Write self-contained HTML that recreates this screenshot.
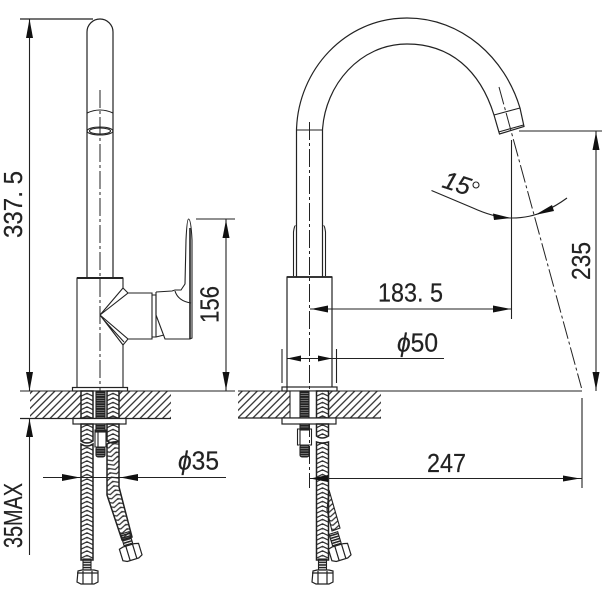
<!DOCTYPE html>
<html><head><meta charset="utf-8"><style>
html,body{margin:0;padding:0;background:#fff}
svg{display:block}
text{font-family:"Liberation Sans",sans-serif;fill:#222;stroke:#222;stroke-width:.2}
.a{fill:#111;stroke:none}
.c{stroke-dasharray:18 3 3 3;stroke-width:1}
</style></head><body>
<svg width="602" height="602" viewBox="0 0 602 602" xmlns="http://www.w3.org/2000/svg" fill="none" stroke="#222" stroke-width="1.1">
<defs>
<pattern id="h" width="5.300" height="5.300" patternUnits="userSpaceOnUse" patternTransform="rotate(45)"><line x1="2.650" y1="0" x2="2.650" y2="5.300" stroke="#222" stroke-width="1.200"/></pattern>
<pattern id="b2" x="0" y="0" width="12" height="4.500" patternUnits="userSpaceOnUse" patternTransform="translate(109 490) rotate(-17)"><path d="M-1 .7L6 -2.700L13 .7M-1 5.200L6 1.800L13 5.200M-1 9.700L6 6.300L13 9.700" stroke="#333" stroke-width="1.250" fill="none"/></pattern>
<pattern id="b3" x="0" y="0" width="12" height="4.500" patternUnits="userSpaceOnUse" patternTransform="translate(81 0)"><path d="M-1 .7L6 -2.700L13 .7M-1 5.200L6 1.800L13 5.200M-1 9.700L6 6.300L13 9.700" stroke="#333" stroke-width="1.250" fill="none"/></pattern>
<pattern id="b4" x="0" y="0" width="12" height="4.500" patternUnits="userSpaceOnUse" patternTransform="translate(107 0)"><path d="M-1 .7L6 -2.700L13 .7M-1 5.200L6 1.800L13 5.200M-1 9.700L6 6.300L13 9.700" stroke="#333" stroke-width="1.250" fill="none"/></pattern>
<pattern id="b5" x="0" y="0" width="12" height="4.500" patternUnits="userSpaceOnUse" patternTransform="translate(316.500 0)"><path d="M-1 .7L6 -2.700L13 .7M-1 5.200L6 1.800L13 5.200M-1 9.700L6 6.300L13 9.700" stroke="#333" stroke-width="1.250" fill="none"/></pattern>
<pattern id="t" width="5" height="2.400" patternUnits="userSpaceOnUse"><rect width="5" height="1.500" fill="#222"/></pattern>
<pattern id="t2" width="5" height="2.600" patternUnits="userSpaceOnUse"><rect width="5" height="1" fill="#333"/></pattern>
</defs>

<!-- LEFT VIEW -->
<path d="M87 278V32A13 13 0 0 1 113 32V278" stroke-width="1.200"/>
<path d="M87 113Q100 107 113 113"/>
<ellipse cx="100" cy="131" rx="13" ry="4"/><ellipse cx="100" cy="131" rx="10.500" ry="3"/>
<line class="c" x1="100" y1="90" x2="100" y2="391"/>
<path d="M77 387V278H123V288M123 345V387"/>
<line x1="77" y1="278" x2="123" y2="278" stroke-width="2"/>
<path d="M123 288L128 293H152V339H128L123 345"/>
<path d="M100 315L123 288M100 315L128 293M100 315L128 339M100 315L123 345M103 319L124 342"/>
<path d="M152 295H156V337L152 337M156 337L164 335"/>
<path d="M156 292L172 291L175 290H181L185 284L186 240Q187 219 188.500 219Q191 219 192 240V338L190 339H165L156 315V292"/>
<path d="M175 291Q178 301 191 303"/>
<line x1="190" y1="228" x2="190" y2="339" stroke-width="1.600"/>
<rect x="72.500" y="387.500" width="55" height="3.500" stroke-width="1.200"/>

<rect x="30" y="391" width="141" height="27" fill="url(#h)" stroke="none"/>
<rect x="81" y="391" width="38" height="27" fill="#fff" stroke="none"/>
<line x1="20" y1="391" x2="235" y2="391"/>
<line x1="20" y1="418.500" x2="171" y2="418.500" stroke-width="1.200"/>
<!-- left hoses -->
<rect x="81" y="391" width="12" height="27" fill="url(#b3)" stroke-width="1.500"/>
<rect x="107" y="391" width="12" height="27" fill="url(#b4)" stroke-width="1.500"/>
<rect x="96" y="391" width="9" height="27" fill="url(#t)"/>
<rect x="73" y="418.500" width="53" height="5.500" fill="#fff" stroke-width="1.200"/>
<path d="M81 424H93V441Q87 445 81 441Z" fill="url(#b3)" stroke-width="1.500"/>
<path d="M107 424H119V441Q113 445 107 441Z" fill="url(#b4)" stroke-width="1.500"/>
<path d="M81 444Q87 448 93 444V560H81Z" fill="url(#b3)" stroke-width="1.500"/>
<path d="M107 444Q113 441 119 442V487L132 537L122 540L107 495Z" fill="url(#b2)" stroke-width="1.500"/>
<rect x="96" y="424" width="9" height="8" fill="url(#t)"/>
<rect x="96" y="447" width="9" height="10" rx="2" fill="url(#t)"/>
<path d="M95 430H106V447H95ZM98 430V447"/>
<rect x="83" y="559" width="8" height="11" fill="url(#t2)"/>
<path d="M78 571L82 570H94L98 571V582L94 584H81L77 582ZM77 573H98M83 571V584M92 571V584" fill="#fff" stroke-width="1.200"/>
<g transform="rotate(-17 131 553)">
<rect x="126.500" y="532" width="9" height="12" fill="url(#t2)"/>
<path d="M121 546L125 545H137L141 546V558L137 560H125L121 558ZM128 545V560M135 545V560" fill="#fff" stroke-width="1.200"/>
</g>

<!-- Dim 337.5 / 35MAX -->
<line x1="20" y1="19" x2="93" y2="19" stroke-width="1.200"/>
<line x1="29.500" y1="19" x2="29.500" y2="391"/>
<path class="a" d="M29.500 19L26 38H33Z"/><path class="a" d="M29.500 391L26 372H33Z"/>
<line x1="29.500" y1="418" x2="29.500" y2="555"/>
<path class="a" d="M29.500 419L26 437H33Z"/>
<text transform="translate(22 238) rotate(-90)" font-size="26" textLength="67" lengthAdjust="spacingAndGlyphs">337. 5</text>
<text transform="translate(22 548) rotate(-90)" font-size="26" textLength="65" lengthAdjust="spacingAndGlyphs">35MAX</text>

<!-- Dim 156 -->
<line x1="196" y1="219" x2="235" y2="219"/>
<line x1="226" y1="219" x2="226" y2="391"/>
<path class="a" d="M226 220L222.500 238H229.500Z"/><path class="a" d="M226 390L222.500 372H229.500Z"/>
<text transform="translate(218.500 323) rotate(-90)" font-size="26" textLength="37" lengthAdjust="spacingAndGlyphs">156</text>

<!-- Dim phi35 -->
<line x1="43" y1="477.500" x2="226" y2="477.500"/>
<path class="a" d="M80 477.500L62 474V481Z"/><path class="a" d="M120 477.500L138 474V481Z"/>
<text x="178" y="469.500" font-size="26" textLength="41" lengthAdjust="spacingAndGlyphs"><tspan font-style="italic">ϕ</tspan>35</text>

<!-- RIGHT VIEW -->
<path d="M296.500 277V130C298 70 345 18 407 18C462 18 505 58 520 108L524 126.500L499.500 134L494 115C480 70 450 44 407 44C360 44 325 85 322.500 130V277" stroke-width="1.200"/>
<line x1="296.500" y1="130" x2="322.500" y2="130"/>
<path d="M494 115L520 108M498.500 132L523.500 125"/>
<path d="M293.500 276V232Q294.500 225 295.500 226M325.500 276V232Q324.500 225 323.500 226"/>
<line class="c" x1="309.500" y1="122" x2="309.500" y2="488"/>
<path d="M287 391V277H332V387" stroke-width="1.200"/>
<line x1="287" y1="277" x2="332" y2="277" stroke-width="1.800"/>
<rect x="282" y="387" width="55" height="4" stroke-width="1.200"/>

<rect x="238" y="391" width="143" height="27" fill="url(#h)" stroke="none"/>
<rect x="290" y="391" width="39" height="27" fill="#fff" stroke="none"/>
<path d="M290 391V418"/>
<line x1="238" y1="391" x2="582" y2="391"/>
<line x1="238" y1="418" x2="381" y2="418" stroke-width="1.200"/>
<rect x="300" y="391" width="9" height="27" fill="url(#t)"/>
<rect x="316.500" y="391" width="12" height="27" fill="url(#b5)" stroke-width="1.500"/>
<rect x="282" y="418" width="54" height="6" fill="#fff" stroke-width="1.200"/>
<rect x="300" y="424" width="9" height="6" fill="url(#t)"/>
<rect x="300" y="445" width="9" height="12" rx="2" fill="url(#t)"/>
<path d="M297.500 429H311.500V445H297.500ZM300 429V445"/>
<path d="M316.500 424H328.500V436Q322 440 316.500 436Z" fill="url(#b5)" stroke-width="1.500"/>
<!-- back hose -->
<path d="M329 490L340 528L332 531L327 510Z" fill="url(#b2)"/>
<g transform="rotate(-17 340 553)">
<rect x="335" y="532" width="9" height="12" fill="url(#t2)"/>
<path d="M330 546L334 545H346L350 546V558L346 560H334L330 558ZM337 545V560M344 545V560" fill="#fff" stroke-width="1.200"/>
</g>
<path d="M316.500 442Q322 444 328.500 442V560H316.500Z" fill="url(#b5)" stroke-width="1.500"/>
<rect x="318.500" y="559" width="8" height="11" fill="url(#t2)"/>
<path d="M313 571L317 570H329L333 571V582L329 584H316L312 582ZM312 573H333M318 571V584M327 571V584" fill="#fff" stroke-width="1.200"/>

<!-- spout centre line -->
<line class="c" x1="499" y1="87" x2="581.500" y2="388"/>

<!-- Dim 183.5 -->
<line x1="511.500" y1="140" x2="511.500" y2="319"/>
<line x1="310" y1="309" x2="511" y2="309"/>
<path class="a" d="M311 309L328 305.500V312.500Z"/><path class="a" d="M511 309L493 305.500V312.500Z"/>
<text x="378" y="301.500" font-size="26" textLength="65" lengthAdjust="spacingAndGlyphs">183. 5</text>

<!-- Dim phi50 -->
<line x1="282" y1="349" x2="282" y2="383"/><line x1="336.500" y1="349" x2="336.500" y2="383"/>
<line x1="287" y1="358.500" x2="444" y2="358.500"/>
<path class="a" d="M287 358.500L301 355.500V361.500Z"/><path class="a" d="M332 358.500L318 355.500V361.500Z"/>
<text x="397" y="351.500" font-size="26" textLength="41" lengthAdjust="spacingAndGlyphs"><tspan font-style="italic">ϕ</tspan>50</text>

<!-- Dim 235 -->
<line x1="519" y1="131" x2="602" y2="131"/>
<line x1="596" y1="131" x2="596" y2="391"/>
<path class="a" d="M596 132L592.500 150H599.500Z"/><path class="a" d="M596 390L592.500 372H599.500Z"/>
<text transform="translate(590 280) rotate(-90)" font-size="26" textLength="38" lengthAdjust="spacingAndGlyphs">235</text>

<!-- Dim 247 -->
<line x1="582" y1="398" x2="582" y2="488"/>
<line x1="310" y1="478.500" x2="582" y2="478.500"/>
<path class="a" d="M580 478.500L563 475.500V481.500Z"/><path class="a" d="M310 478.500L328 475V482Z"/>
<text x="427" y="472" font-size="26" textLength="39" lengthAdjust="spacingAndGlyphs">247</text>

<!-- Angle 15 -->
<path d="M431.500 190.500L473 208Q495 218 512 218Q530 218 545 211Q556 206 567 198"/>
<path class="a" d="M511 218L493 213.500L494 220Z"/><path class="a" d="M535 215L552 205L554 211Z"/>
<text transform="translate(441 187) rotate(18)" font-size="25" font-style="italic">15</text>
<circle cx="476" cy="185" r="3"/>
</svg>
</body></html>
